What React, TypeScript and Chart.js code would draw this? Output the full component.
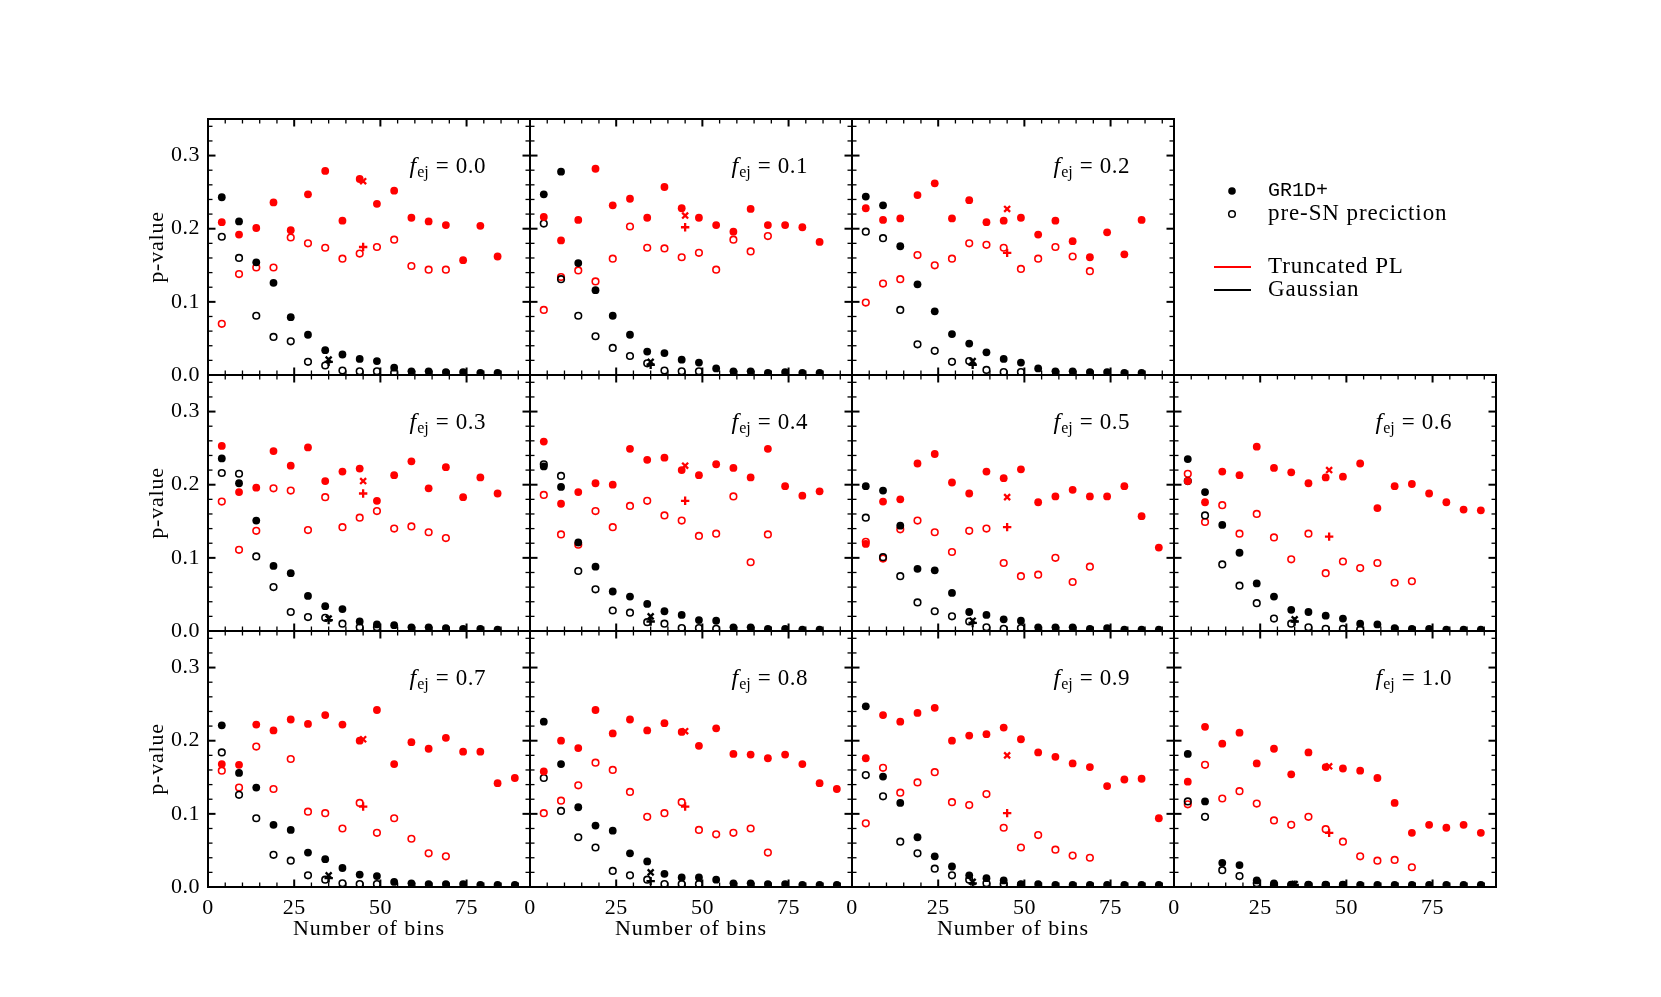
import React, { useEffect, useRef } from "react";
import { Chart, registerables } from "chart.js";

Chart.register(...registerables);

// ---------------- data ----------------
const BINS = [4, 9, 14, 19, 24, 29, 34, 39, 44, 49, 54, 59, 64, 69, 74, 79, 84, 89];
const X_TICKS = [0, 25, 50, 75];
const Y_TICKS = [0.0, 0.1, 0.2, 0.3];
const Y_TICK_LABELS = ["0.0", "0.1", "0.2", "0.3"];
const MARK_X_TPL = 45;
const MARK_X_GAU = 35;

// marks: [TPL x-marker, TPL +-marker, Gaussian x-marker, Gaussian +-marker]
const f00_tplGR = [0.209, 0.192, 0.201, 0.236, 0.198, 0.247, 0.279, 0.211, 0.268, 0.234, 0.252, 0.215, 0.210, 0.205, 0.157, 0.204, 0.162];
const f00_tplPre = [0.070, 0.138, 0.147, 0.147, 0.188, 0.180, 0.174, 0.159, 0.166, 0.175, 0.185, 0.149, 0.144, 0.144];
const f00_gauGR = [0.243, 0.210, 0.154, 0.126, 0.079, 0.055, 0.034, 0.028, 0.022, 0.019, 0.010, 0.005, 0.005, 0.004, 0.004, 0.003, 0.003];
const f00_gauPre = [0.189, 0.160, 0.081, 0.052, 0.046, 0.018, 0.013, 0.006, 0.005, 0.005, 0.003];
const f00_marks = [0.265, 0.175, 0.021, 0.018];

const f01_tplGR = [0.216, 0.184, 0.212, 0.282, 0.232, 0.241, 0.215, 0.257, 0.228, 0.215, 0.205, 0.196, 0.227, 0.205, 0.205, 0.202, 0.182];
const f01_tplPre = [0.089, 0.134, 0.143, 0.128, 0.159, 0.203, 0.174, 0.173, 0.161, 0.167, 0.144, 0.185, 0.169, 0.190];
const f01_gauGR = [0.247, 0.278, 0.153, 0.116, 0.081, 0.055, 0.032, 0.030, 0.021, 0.017, 0.009, 0.005, 0.005, 0.003, 0.004, 0.003, 0.003];
const f01_gauPre = [0.207, 0.131, 0.081, 0.053, 0.037, 0.026, 0.016, 0.006, 0.005, 0.005];
const f01_marks = [0.218, 0.202, 0.018, 0.014];

const f02_tplGR = [0.228, 0.212, 0.214, 0.246, 0.262, 0.214, 0.239, 0.209, 0.211, 0.215, 0.192, 0.211, 0.183, 0.161, 0.195, 0.165, 0.212];
const f02_tplPre = [0.099, 0.125, 0.131, 0.164, 0.150, 0.159, 0.180, 0.178, 0.174, 0.145, 0.159, 0.175, 0.162, 0.142];
const f02_gauGR = [0.244, 0.232, 0.176, 0.124, 0.087, 0.056, 0.043, 0.031, 0.022, 0.017, 0.009, 0.005, 0.005, 0.004, 0.004, 0.003, 0.003];
const f02_gauPre = [0.196, 0.187, 0.089, 0.042, 0.033, 0.018, 0.019, 0.007, 0.004, 0.004];
const f02_marks = [0.227, 0.167, 0.019, 0.014];

const f03_tplGR = [0.253, 0.190, 0.196, 0.246, 0.226, 0.251, 0.205, 0.218, 0.222, 0.178, 0.213, 0.232, 0.195, 0.224, 0.183, 0.210, 0.188];
const f03_tplPre = [0.177, 0.111, 0.137, 0.195, 0.192, 0.138, 0.183, 0.142, 0.155, 0.164, 0.140, 0.143, 0.135, 0.127];
const f03_gauGR = [0.236, 0.202, 0.151, 0.089, 0.079, 0.048, 0.034, 0.030, 0.013, 0.009, 0.008, 0.005, 0.005, 0.004, 0.003, 0.003, 0.002];
const f03_gauPre = [0.216, 0.215, 0.102, 0.060, 0.026, 0.019, 0.018, 0.010, 0.005, 0.005];
const f03_marks = [0.205, 0.188, 0.017, 0.015];

const f04_tplGR = [0.259, 0.174, 0.190, 0.202, 0.200, 0.249, 0.234, 0.237, 0.220, 0.213, 0.228, 0.223, 0.210, 0.249, 0.198, 0.185, 0.191];
const f04_tplPre = [0.186, 0.132, 0.118, 0.164, 0.142, 0.171, 0.178, 0.158, 0.151, 0.130, 0.133, 0.184, 0.094, 0.132];
const f04_gauGR = [0.225, 0.197, 0.121, 0.088, 0.054, 0.047, 0.037, 0.027, 0.022, 0.015, 0.014, 0.005, 0.005, 0.003, 0.003, 0.002, 0.002];
const f04_gauPre = [0.228, 0.212, 0.082, 0.057, 0.028, 0.025, 0.012, 0.010, 0.004, 0.004, 0.003];
const f04_marks = [0.226, 0.178, 0.020, 0.013];

const f05_tplGR = [0.119, 0.177, 0.180, 0.229, 0.242, 0.203, 0.188, 0.218, 0.209, 0.221, 0.176, 0.184, 0.193, 0.184, 0.184, 0.198, 0.157, 0.114];
const f05_tplPre = [0.122, 0.099, 0.139, 0.151, 0.135, 0.108, 0.137, 0.140, 0.093, 0.075, 0.077, 0.100, 0.067, 0.088];
const f05_gauGR = [0.198, 0.192, 0.144, 0.085, 0.083, 0.052, 0.026, 0.022, 0.016, 0.014, 0.005, 0.005, 0.005, 0.003, 0.004, 0.002, 0.002, 0.002];
const f05_gauPre = [0.155, 0.101, 0.075, 0.039, 0.027, 0.020, 0.013, 0.005, 0.003, 0.004];
const f05_marks = [0.183, 0.142, 0.014, 0.011];

const f06_tplGR = [0.205, 0.176, 0.218, 0.213, 0.252, 0.223, 0.217, 0.202, 0.210, 0.211, 0.229, 0.168, 0.198, 0.201, 0.188, 0.176, 0.166, 0.165];
const f06_tplPre = [0.215, 0.149, 0.172, 0.133, 0.160, 0.128, 0.098, 0.133, 0.079, 0.095, 0.086, 0.093, 0.066, 0.068];
const f06_gauGR = [0.235, 0.190, 0.145, 0.107, 0.065, 0.047, 0.029, 0.026, 0.021, 0.017, 0.010, 0.009, 0.004, 0.003, 0.003, 0.002, 0.002, 0.002];
const f06_gauPre = [0.205, 0.158, 0.091, 0.062, 0.038, 0.017, 0.010, 0.005, 0.003, 0.003, 0.002];
const f06_marks = [0.220, 0.129, 0.016, 0.013];

const f07_tplGR = [0.168, 0.167, 0.222, 0.214, 0.229, 0.223, 0.235, 0.222, 0.200, 0.242, 0.168, 0.198, 0.189, 0.204, 0.185, 0.185, 0.142, 0.149];
const f07_tplPre = [0.159, 0.136, 0.192, 0.134, 0.175, 0.103, 0.101, 0.080, 0.115, 0.074, 0.094, 0.066, 0.046, 0.042];
const f07_gauGR = [0.221, 0.156, 0.136, 0.085, 0.078, 0.047, 0.038, 0.026, 0.017, 0.015, 0.007, 0.005, 0.004, 0.004, 0.004, 0.003, 0.003, 0.003];
const f07_gauPre = [0.184, 0.126, 0.094, 0.044, 0.036, 0.016, 0.010, 0.005, 0.004, 0.004];
const f07_marks = [0.202, 0.110, 0.016, 0.012];

const f08_tplGR = [0.158, 0.200, 0.190, 0.242, 0.210, 0.229, 0.214, 0.224, 0.212, 0.193, 0.217, 0.182, 0.181, 0.176, 0.181, 0.168, 0.142, 0.134];
const f08_tplPre = [0.101, 0.118, 0.139, 0.170, 0.160, 0.130, 0.096, 0.101, 0.116, 0.078, 0.072, 0.074, 0.080, 0.047];
const f08_gauGR = [0.226, 0.168, 0.109, 0.084, 0.077, 0.046, 0.035, 0.018, 0.013, 0.013, 0.010, 0.005, 0.005, 0.004, 0.004, 0.003, 0.003, 0.003];
const f08_gauPre = [0.149, 0.104, 0.068, 0.054, 0.022, 0.016, 0.010, 0.004, 0.004, 0.004];
const f08_marks = [0.213, 0.110, 0.020, 0.008];

const f09_tplGR = [0.176, 0.235, 0.226, 0.238, 0.245, 0.200, 0.207, 0.209, 0.218, 0.202, 0.184, 0.178, 0.169, 0.164, 0.138, 0.147, 0.148, 0.094];
const f09_tplPre = [0.087, 0.163, 0.129, 0.143, 0.157, 0.116, 0.112, 0.127, 0.081, 0.054, 0.071, 0.051, 0.043, 0.040];
const f09_gauGR = [0.247, 0.151, 0.115, 0.068, 0.042, 0.028, 0.016, 0.012, 0.009, 0.004, 0.004, 0.003, 0.003, 0.003, 0.003, 0.003, 0.003, 0.003];
const f09_gauPre = [0.153, 0.124, 0.062, 0.046, 0.025, 0.016, 0.010, 0.005, 0.004, 0.003];
const f09_marks = [0.180, 0.101, 0.007, 0.005];

const f10_tplGR = [0.144, 0.219, 0.196, 0.211, 0.169, 0.189, 0.154, 0.184, 0.164, 0.162, 0.159, 0.149, 0.115, 0.074, 0.085, 0.081, 0.085, 0.074];
const f10_tplPre = [0.113, 0.167, 0.121, 0.131, 0.114, 0.091, 0.085, 0.096, 0.079, 0.062, 0.042, 0.036, 0.037, 0.027];
const f10_gauGR = [0.182, 0.117, 0.033, 0.030, 0.009, 0.005, 0.003, 0.003, 0.003, 0.003, 0.003, 0.003, 0.003, 0.003, 0.003, 0.003, 0.003, 0.003];
const f10_gauPre = [0.117, 0.096, 0.023, 0.015, 0.005, 0.003, 0.003, 0.003, 0.003, 0.003];
const f10_marks = [0.165, 0.074, 0.004, 0.003];

// ---------------- layout ----------------
const X_MAX = 93.4;
const Y_MAX = 0.35;
const PANEL_W = 322;
const PANEL_H = 256;
const COL_LEFT = [208, 530, 852, 1174];
const ROW_TOP = [119, 375, 631];
const PAD = { left: 80, right: 12, top: 12, bottom: 64 };
const LEGEND_PAD_RIGHT = 340;

const SERIF = '"Liberation Serif", "Times New Roman", serif';
const MONO = '"Liberation Mono", "DejaVu Sans Mono", monospace';
const RED = "#ff0000";
const BLACK = "#000000";

const PANELS = [
  { fej: "0.0", tplGR: f00_tplGR, tplPre: f00_tplPre, gauGR: f00_gauGR, gauPre: f00_gauPre, marks: f00_marks, row: 0, col: 0 },
  { fej: "0.1", tplGR: f01_tplGR, tplPre: f01_tplPre, gauGR: f01_gauGR, gauPre: f01_gauPre, marks: f01_marks, row: 0, col: 1 },
  { fej: "0.2", tplGR: f02_tplGR, tplPre: f02_tplPre, gauGR: f02_gauGR, gauPre: f02_gauPre, marks: f02_marks, row: 0, col: 2, legend: true },
  { fej: "0.3", tplGR: f03_tplGR, tplPre: f03_tplPre, gauGR: f03_gauGR, gauPre: f03_gauPre, marks: f03_marks, row: 1, col: 0 },
  { fej: "0.4", tplGR: f04_tplGR, tplPre: f04_tplPre, gauGR: f04_gauGR, gauPre: f04_gauPre, marks: f04_marks, row: 1, col: 1 },
  { fej: "0.5", tplGR: f05_tplGR, tplPre: f05_tplPre, gauGR: f05_gauGR, gauPre: f05_gauPre, marks: f05_marks, row: 1, col: 2 },
  { fej: "0.6", tplGR: f06_tplGR, tplPre: f06_tplPre, gauGR: f06_gauGR, gauPre: f06_gauPre, marks: f06_marks, row: 1, col: 3 },
  { fej: "0.7", tplGR: f07_tplGR, tplPre: f07_tplPre, gauGR: f07_gauGR, gauPre: f07_gauPre, marks: f07_marks, row: 2, col: 0 },
  { fej: "0.8", tplGR: f08_tplGR, tplPre: f08_tplPre, gauGR: f08_gauGR, gauPre: f08_gauPre, marks: f08_marks, row: 2, col: 1 },
  { fej: "0.9", tplGR: f09_tplGR, tplPre: f09_tplPre, gauGR: f09_gauGR, gauPre: f09_gauPre, marks: f09_marks, row: 2, col: 2 },
  { fej: "1.0", tplGR: f10_tplGR, tplPre: f10_tplPre, gauGR: f10_gauGR, gauPre: f10_gauPre, marks: f10_marks, row: 2, col: 3 },
];

function pts(ys: number[]) {
  return ys.map((y, i) => ({ x: BINS[i], y }));
}

const framePlugin = {
  id: "frame",
  afterDatasetsDraw(chart: any, _args: any, o: any) {
    const { ctx, chartArea: a, scales } = chart;
    const xs = scales.x;
    const ys = scales.y;
    ctx.save();
    ctx.strokeStyle = BLACK;
    ctx.fillStyle = BLACK;
    ctx.lineCap = "butt";
    const seg = (x1: number, y1: number, x2: number, y2: number) => {
      ctx.beginPath();
      ctx.moveTo(x1, y1);
      ctx.lineTo(x2, y2);
      ctx.stroke();
    };
    const spacing = (s: string) => {
      try {
        (ctx as any).letterSpacing = s;
      } catch (e) {}
    };
    // x ticks (inward, bottom and top)
    for (let v = 0; v <= xs.max; v += 5) {
      const px = xs.getPixelForValue(v);
      const major = v % 25 === 0;
      ctx.lineWidth = major ? 2 : 1.3;
      const len = major ? 7.5 : 4.5;
      seg(px, a.bottom, px, a.bottom - len);
      seg(px, a.top, px, a.top + len);
    }
    // y ticks (inward, left and right)
    for (let k = 0; k * 0.02 <= ys.max + 1e-9; k++) {
      const py = ys.getPixelForValue(k * 0.02);
      const major = k % 5 === 0;
      ctx.lineWidth = major ? 2 : 1.3;
      const len = major ? 7.5 : 4.5;
      seg(a.left, py, a.left + len, py);
      seg(a.right, py, a.right - len, py);
    }
    ctx.lineWidth = 2;
    ctx.strokeRect(a.left, a.top, a.right - a.left, a.bottom - a.top);

    const font = `22px ${SERIF}`;
    if (o.yLabels) {
      ctx.font = font;
      spacing("0.5px");
      ctx.textAlign = "right";
      ctx.textBaseline = "middle";
      Y_TICKS.forEach((v, i) => ctx.fillText(Y_TICK_LABELS[i], a.left - 8, ys.getPixelForValue(v)));
      spacing("0.8px");
      ctx.save();
      ctx.translate(a.left - 51, (a.top + a.bottom) / 2);
      ctx.rotate(-Math.PI / 2);
      ctx.textAlign = "center";
      ctx.fillText("p-value", 0, 0);
      ctx.restore();
      spacing("0px");
    }
    if (o.xLabels) {
      ctx.font = font;
      spacing("0.5px");
      ctx.textAlign = "center";
      ctx.textBaseline = "middle";
      X_TICKS.forEach((v) => ctx.fillText(String(v), xs.getPixelForValue(v), a.bottom + 21));
      spacing("0px");
    }
    if (o.xTitle) {
      ctx.font = font;
      spacing("1px");
      ctx.textAlign = "center";
      ctx.textBaseline = "middle";
      ctx.fillText("Number of bins", (a.left + a.right) / 2, a.bottom + 42);
      spacing("0px");
    }
    // f_ej annotation
    {
      const ital = `italic 24px ${SERIF}`;
      const sub = `16px ${SERIF}`;
      const big = `23px ${SERIF}`;
      ctx.font = ital;
      const wf = ctx.measureText("f").width;
      ctx.font = sub;
      const ws = ctx.measureText("ej").width;
      ctx.font = big;
      const weq = ctx.measureText("=").width;
      spacing("0.5px");
      const wv = ctx.measureText(o.fej).width;
      spacing("0px");
      const gap = 7;
      const total = wf + 1 + ws + gap + weq + gap + wv;
      const x0 = a.right - 44 - total;
      const base = a.top + 54;
      ctx.textAlign = "left";
      ctx.textBaseline = "alphabetic";
      ctx.font = ital;
      ctx.fillText("f", x0, base);
      ctx.font = sub;
      ctx.fillText("ej", x0 + wf + 1, base + 4);
      ctx.font = big;
      let cx = x0 + wf + 1 + ws + gap;
      ctx.fillText("=", cx, base);
      cx += weq + gap;
      spacing("0.5px");
      ctx.fillText(o.fej, cx, base);
      spacing("0px");
    }
    // legend
    if (o.legend) {
      const X = (px: number) => px - o.originX + a.left;
      const Y = (py: number) => py - o.originY + a.top;
      ctx.beginPath();
      ctx.arc(X(1232), Y(191), 3.8, 0, Math.PI * 2);
      ctx.fill();
      ctx.lineWidth = 1.5;
      ctx.beginPath();
      ctx.arc(X(1232), Y(214), 3.3, 0, Math.PI * 2);
      ctx.stroke();
      ctx.lineWidth = 2;
      ctx.strokeStyle = RED;
      seg(X(1214), Y(267), X(1251), Y(267));
      ctx.strokeStyle = BLACK;
      seg(X(1214), Y(290), X(1251), Y(290));
      ctx.textAlign = "left";
      ctx.textBaseline = "middle";
      ctx.font = `20px ${MONO}`;
      ctx.fillText("GR1D+", X(1268), Y(191));
      ctx.font = `23px ${SERIF}`;
      spacing("0.9px");
      ctx.fillText("pre-SN preciction", X(1268), Y(214));
      ctx.fillText("Truncated PL", X(1268), Y(267));
      ctx.fillText("Gaussian", X(1268), Y(290));
      spacing("0px");
    }
    ctx.restore();
  },
};

export default function App() {
  const refs = useRef<(HTMLCanvasElement | null)[]>([]);

  useEffect(() => {
    const charts = PANELS.map((p, i) => {
      const cv = refs.current[i] as HTMLCanvasElement;
      const padRight = p.legend ? LEGEND_PAD_RIGHT : PAD.right;
      const filled = (data: number[], color: string, order: number) => ({
        data: pts(data),
        pointStyle: "circle",
        pointRadius: 3.9,
        pointBackgroundColor: color,
        pointBorderColor: color,
        pointBorderWidth: 0,
        showLine: false,
        clip: 0,
        order,
      });
      const open = (data: number[], color: string, order: number) => ({
        data: pts(data),
        pointStyle: "circle",
        pointRadius: 3.3,
        pointBackgroundColor: "rgba(0,0,0,0)",
        pointBorderColor: color,
        pointBorderWidth: 1.6,
        showLine: false,
        clip: 0,
        order,
      });
      const mark = (x: number, y: number, style: string, color: string) => ({
        data: [{ x, y }],
        pointStyle: style,
        pointRadius: 4.2,
        pointBackgroundColor: color,
        pointBorderColor: color,
        pointBorderWidth: 2.3,
        showLine: false,
        clip: 0,
        order: 0,
      });
      return new Chart(cv, {
        type: "scatter",
        data: {
          datasets: [
            mark(MARK_X_TPL, p.marks[0], "crossRot", RED),
            mark(MARK_X_TPL, p.marks[1], "cross", RED),
            mark(MARK_X_GAU, p.marks[2], "crossRot", BLACK),
            mark(MARK_X_GAU, p.marks[3], "cross", BLACK),
            filled(p.gauGR, BLACK, 1),
            filled(p.tplGR, RED, 2),
            open(p.gauPre, BLACK, 3),
            open(p.tplPre, RED, 4),
          ] as any,
        },
        options: {
          animation: false,
          responsive: false,
          devicePixelRatio: 1,
          events: [],
          layout: { padding: { left: PAD.left, right: padRight, top: PAD.top, bottom: PAD.bottom } },
          plugins: {
            legend: { display: false },
            tooltip: { enabled: false },
            frame: {
              fej: p.fej,
              yLabels: p.col === 0,
              xLabels: p.row === 2,
              xTitle: p.row === 2 && p.col < 3,
              legend: !!p.legend,
              originX: COL_LEFT[p.col],
              originY: ROW_TOP[p.row],
            },
          } as any,
          scales: {
            x: { type: "linear", min: 0, max: X_MAX, display: false },
            y: { type: "linear", min: 0, max: Y_MAX, display: false },
          },
        },
        plugins: [framePlugin as any],
      });
    });
    return () => charts.forEach((c) => c.destroy());
  }, []);

  return (
    <div style={{ position: "absolute", left: 0, top: 0, width: 1661, height: 997, background: "#fff", overflow: "hidden" }}>
      {PANELS.map((p, i) => {
        const padRight = p.legend ? LEGEND_PAD_RIGHT : PAD.right;
        const w = PANEL_W + PAD.left + padRight;
        const h = PANEL_H + PAD.top + PAD.bottom;
        return (
          <canvas
            key={i}
            ref={(el) => {
              refs.current[i] = el;
            }}
            width={w}
            height={h}
            style={{
              position: "absolute",
              left: COL_LEFT[p.col] - PAD.left,
              top: ROW_TOP[p.row] - PAD.top,
              width: w,
              height: h,
            }}
          />
        );
      })}
    </div>
  );
}
